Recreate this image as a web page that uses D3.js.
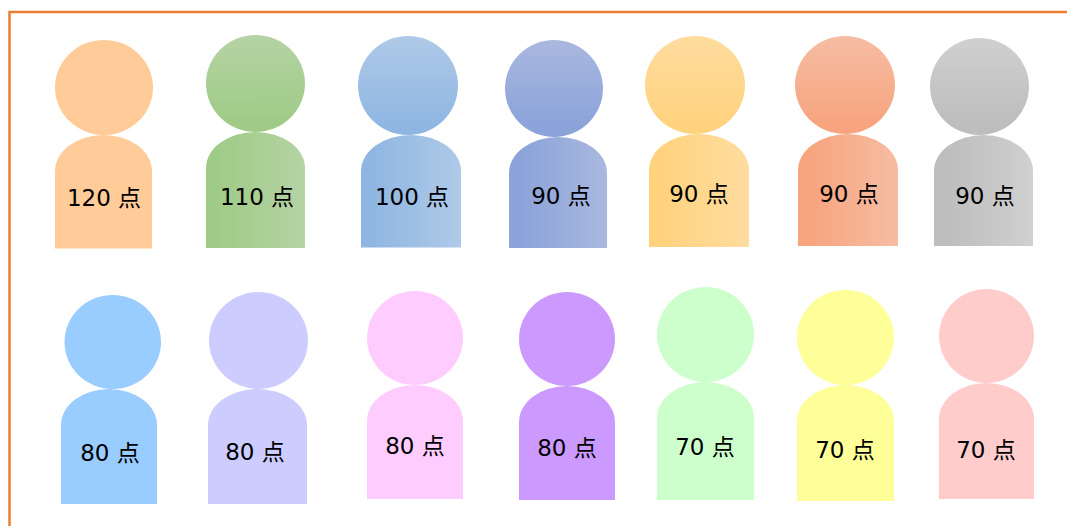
<!DOCTYPE html>
<html>
<head>
<meta charset="utf-8">
<script src="https://cdn.jsdelivr.net/npm/d3@7"></script>
<style>
  html, body { margin: 0; padding: 0; background: #fff; overflow: hidden; }
  text { font-family: "DejaVu Sans", "Noto Sans CJK JP", sans-serif; }
</style>
</head>
<body>
<div id="chart"></div>
<script>
// Scores, one person per score
const ids = d3.range(14);
const scores = [120, 110, 100, 90, 90, 90, 90, 80, 80, 80, 80, 70, 70, 70];
const lightColors = ["#FFCC99", "#B5D3A5", "#AFCAE8", "#A9B8DF", "#FFDC9F", "#F6BDA3", "#D0D0D0",
                     "#99CCFF", "#CCCCFF", "#FFCCFF", "#CC99FF", "#CCFFCC", "#FFFF99", "#FFCCCC"];
const darkColors = ["#FFCC99", "#9FCB86", "#8FB6E2", "#8BA3D9", "#FFD27E", "#F7A47F", "#BDBDBD",
                    "#99CCFF", "#CCCCFF", "#FFCCFF", "#CC99FF", "#CCFFCC", "#FFFF99", "#FFCCCC"];

const width = 1067;
const height = 526;

// The figures were placed by hand in the picture, so each edge gets its own lookup
const layout = (range) => d3.scaleOrdinal().domain(ids).range(range);
const headLeft = layout([55, 206, 358, 505, 645, 795, 930, 64.5, 209, 367, 519, 657, 797, 939]);
const headRight = layout([153, 305, 458, 603, 745, 895, 1029, 161, 308, 463, 615, 754, 894, 1034]);
const headTop = layout([40, 35, 36, 40, 36, 36, 38, 295, 292, 291, 292, 287, 290, 289]);
const neck = layout([135, 132, 135, 137, 134, 134, 135, 389, 389, 385, 386, 382, 385, 383]);
const bodyLeft = layout([55, 206, 361, 509, 649, 798, 934, 61, 208, 367, 519, 657, 797, 939]);
const bodyRight = layout([152, 305, 461, 607, 749, 898, 1033, 157, 307, 463, 615, 754, 894, 1034]);
const bodyBottom = layout([248.5, 248, 247.5, 248, 247, 246, 246, 504, 504, 499, 500, 500, 501, 499]);
const labelX = layout([104, 257, 412, 561, 699, 849, 985, 110, 255, 415, 567, 705, 845, 986]);
const labelY = layout([206, 205, 205, 204, 202, 202, 204, 461, 460, 454, 456, 455, 458, 458]);

const shoulder = 36; // height of the rounded top of a body

const svg = d3
  .select("#chart")
  .append("svg")
  .attr("width", width)
  .attr("height", height)
  .style("display", "block");

// Head fades downwards, body fades to the right
const defs = svg.append("defs");
const addGradient = (prefix, x2, y2) => {
  const gradient = defs
    .selectAll(`linearGradient.${prefix}`)
    .data(ids)
    .enter()
    .append("linearGradient")
    .attr("class", prefix)
    .attr("id", (d) => `${prefix}${d}`)
    .attr("x1", 0)
    .attr("y1", 0)
    .attr("x2", x2)
    .attr("y2", y2);
  return gradient;
};

const headGradient = addGradient("head", 0, 1);
headGradient.append("stop").attr("offset", 0).attr("stop-color", (d) => lightColors[d]);
headGradient.append("stop").attr("offset", 0.9).attr("stop-color", (d) => darkColors[d]);

const bodyGradient = addGradient("body", 1, 0);
bodyGradient.append("stop").attr("offset", 0.1).attr("stop-color", (d) => darkColors[d]);
bodyGradient.append("stop").attr("offset", 1).attr("stop-color", (d) => lightColors[d]);

// Frame runs off the right and bottom of the picture
svg
  .append("path")
  .attr("d", "M9.5,526V12H1067")
  .attr("fill", "none")
  .attr("stroke", "#ED7D31")
  .attr("stroke-width", 2.5);

const person = svg.selectAll("g.person").data(ids).enter().append("g").attr("class", "person");

person
  .append("ellipse")
  .attr("cx", (d) => (headLeft(d) + headRight(d)) / 2)
  .attr("cy", (d) => (headTop(d) + neck(d)) / 2)
  .attr("rx", (d) => (headRight(d) - headLeft(d)) / 2)
  .attr("ry", (d) => (neck(d) - headTop(d)) / 2)
  .attr("fill", (d) => `url(#head${d})`);

person
  .append("path")
  .attr("d", (d) => {
    const rx = (bodyRight(d) - bodyLeft(d)) / 2;
    return `M${bodyLeft(d)},${bodyBottom(d)}V${neck(d) + shoulder}` +
      `A${rx},${shoulder} 0 0 1 ${bodyRight(d)},${neck(d) + shoulder}` +
      `V${bodyBottom(d)}Z`;
  })
  .attr("fill", (d) => `url(#body${d})`);

person
  .append("text")
  .attr("x", (d) => labelX(d))
  .attr("y", (d) => labelY(d))
  .attr("text-anchor", "middle")
  .attr("font-size", 23)
  .attr("fill", "#000")
  .text((d) => `${scores[d]} 点`);
</script>
</body>
</html>
